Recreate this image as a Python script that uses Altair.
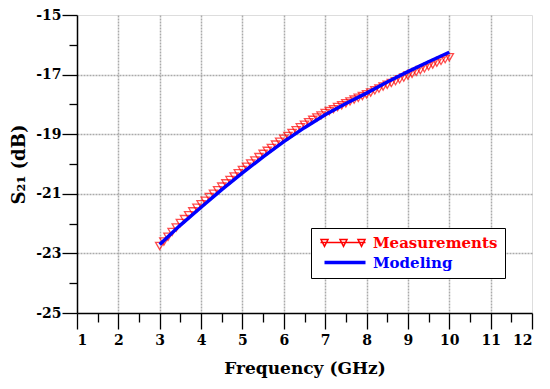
import altair as alt
import pandas as pd

# Modeling curve (GHz, dB)
model_freq = [3.0, 3.5, 4.0, 4.5, 5.0, 5.5, 6.0, 6.5, 7.0, 7.5, 8.0, 8.5, 9.0, 9.5, 10.0]
model_s21 = [-22.70, -22.05, -21.45, -20.86, -20.30, -19.76, -19.25, -18.78,
             -18.35, -17.97, -17.62, -17.25, -16.90, -16.57, -16.25]

# Measurements (GHz, dB)
meas_freq = [3.0, 3.1, 3.2, 3.3, 3.4, 3.5, 3.6, 3.7, 3.8, 3.9,
             4.0, 4.1, 4.2, 4.3, 4.4, 4.5, 4.6, 4.7, 4.8, 4.9,
             5.0, 5.1, 5.2, 5.3, 5.4, 5.5, 5.6, 5.7, 5.8, 5.9,
             6.0, 6.1, 6.2, 6.3, 6.4, 6.5, 6.6, 6.7, 6.8, 6.9,
             7.0, 7.1, 7.2, 7.3, 7.4, 7.5, 7.6, 7.7, 7.8, 7.9,
             8.0, 8.1, 8.2, 8.3, 8.4, 8.5, 8.6, 8.7, 8.8, 8.9,
             9.0, 9.1, 9.2, 9.3, 9.4, 9.5, 9.6, 9.7, 9.8, 9.9, 10.0]
meas_s21 = [-22.75, -22.60, -22.44, -22.28, -22.13, -21.98, -21.85, -21.72, -21.59, -21.47,
            -21.35, -21.23, -21.11, -21.00, -20.88, -20.76, -20.65, -20.54, -20.42, -20.31,
            -20.20, -20.09, -19.98, -19.88, -19.77, -19.66, -19.56, -19.46, -19.35, -19.25,
            -19.15, -19.06, -18.96, -18.87, -18.77, -18.68, -18.60, -18.52, -18.44, -18.37,
            -18.29, -18.22, -18.16, -18.09, -18.03, -17.96, -17.90, -17.84, -17.78, -17.72,
            -17.66, -17.60, -17.53, -17.47, -17.40, -17.34, -17.28, -17.22, -17.16, -17.10,
            -17.03, -16.97, -16.91, -16.85, -16.79, -16.72, -16.66, -16.60, -16.54, -16.48, -16.42]

series_names = ["Measurements", "Modeling"]
series_colors = ["#ff0000", "#0000ff"]

x_major = [1, 2, 3, 4, 5, 6, 7, 8, 9, 10, 11, 12]
x_grid = [2, 3, 4, 5, 6, 7, 8, 9, 10, 11]
x_minor = [1.5, 2.5, 3.5, 4.5, 5.5, 6.5, 7.5, 8.5, 9.5, 10.5, 11.5]
y_major = [-25, -23, -21, -19, -17, -15]
y_grid = [-23, -21, -19, -17]
y_minor = [-24, -22, -20, -18, -16]

meas_df = pd.DataFrame({"f": meas_freq, "s": meas_s21, "series": "Measurements"})
model_df = pd.DataFrame({"f": model_freq, "s": model_s21, "series": "Modeling"})
both_df = pd.concat([meas_df, model_df], ignore_index=True)

FONT = "DejaVu Serif"
xs = alt.Scale(domain=[1, 12], nice=False, zero=False)
ys = alt.Scale(domain=[-25, -15], nice=False, zero=False)

# legend glyphs (unit = 5px for symbolSize 100)
meas_path = ("M-1,0L8,0"
             "M-0.9,-0.6L0.5,-0.6L-0.2,0.75Z"
             "M2.9,-0.6L4.3,-0.6L3.6,0.75Z"
             "M6.5,-0.6L7.9,-0.6L7.2,0.75Z")
model_path = "M-0.2,-0.22L8,-0.22M-0.2,0L8,0M-0.2,0.22L8,0.22"

points = alt.Chart(meas_df).mark_point(
    shape="triangle-down", filled=False, color="#ff0000", size=70, strokeWidth=1.3
).encode(
    x=alt.X("f:Q", scale=xs, title="Frequency (GHz)",
            axis=alt.Axis(values=x_major, orient="bottom", grid=False, tickSize=16,
                          tickWidth=1.3, tickColor="black", domainColor="black",
                          domainWidth=1.5, labelFont=FONT, labelFontWeight="bold",
                          labelFontSize=14, labelColor="black", labelPadding=4,
                          labelExpr="'' + datum.value",
                          titleFont=FONT, titleFontSize=17, titleFontWeight="bold",
                          titleColor="black", titlePadding=13)),
    y=alt.Y("s:Q", scale=ys, title="S₂₁ (dB)",
            axis=alt.Axis(values=y_major, orient="left", grid=False, tickSize=15,
                          tickWidth=1.3, tickColor="black", domainColor="black",
                          domainWidth=1.5, labelFont=FONT, labelFontWeight="bold",
                          labelFontSize=14, labelColor="black", labelPadding=1,
                          labelOffset=0, labelExpr="'' + datum.value",
                          titleFont=FONT, titleFontSize=18, titleFontWeight="bold",
                          titleColor="black", titlePadding=7)),
)

line = alt.Chart(model_df).mark_line(color="#0000ff", strokeWidth=3.5).encode(
    x=alt.X("f:Q", scale=xs, title=None,
            axis=alt.Axis(values=x_grid, orient="bottom", grid=True, ticks=False,
                          labels=False, domain=False, gridColor="#aaaaaa",
                          gridDash=[2, 1], gridWidth=1.5)),
    y=alt.Y("s:Q", scale=ys, title=None,
            axis=alt.Axis(values=y_grid, orient="left", grid=True, ticks=False,
                          labels=False, domain=False, gridColor="#aaaaaa",
                          gridDash=[2, 1], gridWidth=1.5)),
)

legend_layer = alt.Chart(both_df).mark_point(opacity=0, filled=False).encode(
    x=alt.X("f:Q", scale=xs, title=None,
            axis=alt.Axis(values=x_minor, orient="bottom", grid=False, labels=False,
                          domain=False, tickSize=9, tickWidth=1.3, tickColor="black")),
    y=alt.Y("s:Q", scale=ys, title=None,
            axis=alt.Axis(values=y_minor, orient="left", grid=False, labels=False,
                          domain=False, tickSize=8, tickWidth=1.3, tickColor="black")),
    color=alt.Color("series:N", scale=alt.Scale(domain=series_names, range=series_colors),
                    legend=alt.Legend(title=None, orient="none", legendX=234, legendY=213,
                                      padding=7, strokeColor="black", fillColor="white",
                                      symbolSize=100, symbolStrokeWidth=1.5,
                                      symbolOpacity=1, labelFont=FONT, labelFontSize=15,
                                      labelFontWeight="bold", labelOffset=40, rowPadding=4,
                                      labelColor=alt.expr("datum.value == 'Measurements' ? '#ff0000' : '#0000ff'"))),
    shape=alt.Shape("series:N", scale=alt.Scale(domain=series_names, range=[meas_path, model_path]),
                    legend=alt.Legend(title=None, orient="none", legendX=234, legendY=213)),
)

chart = alt.layer(points, line, legend_layer).resolve_axis(
    x="independent", y="independent"
).properties(
    width=455, height=298,
    autosize=alt.AutoSizeParams(type="none"),
    padding={"left": 69, "top": 7, "right": 10, "bottom": 70},
).configure_view(stroke="black", strokeWidth=1.5).configure(background="white")

chart.save("out.html", embed_options={"renderer": "svg", "actions": False})
